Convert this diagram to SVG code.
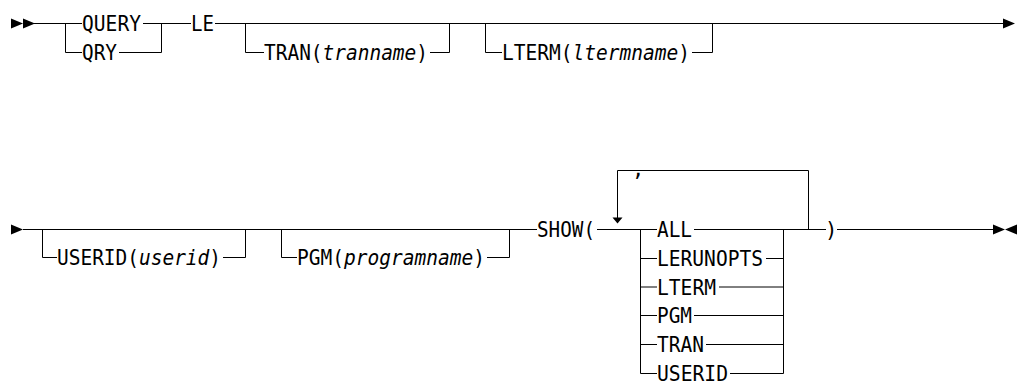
<svg xmlns="http://www.w3.org/2000/svg" width="1017" height="381" viewBox="0 0 1017 381">
<style>
.t{font-family:"DejaVu Sans Mono","Liberation Mono",monospace;font-size:20.5px;fill:#000}
.v{font-style:italic}
.c{fill:none;stroke:#000;stroke-width:1}
.a{fill:#000;stroke:none}
</style>
<rect width="1017" height="381" fill="#fff"/>
<g id="connectors">
<path class="c" d="M34 23.5H82 M143 23.5H191 M65.5 23.5V52.5H82 M119 52.5H161.5V23.5 M215 23.5H1003 M245.5 23.5V52.5H264 M430 52.5H449.5V23.5 M485.5 23.5V52.5H502 M692 52.5H712.5V23.5"/>
<path class="c" d="M23 229.5H537 M42.5 229.5V257.5H57 M223 257.5H245.5V229.5 M281.5 229.5V257.5H297 M487 257.5H509.5V229.5 M597 229.5H657"/>
<path class="c" d="M617.5 218V170.5H808.5V229.5 M640.5 229.5V373.5 M640.5 258.5H657 M640.5 287H657 M640.5 315.5H657 M640.5 344.5H657 M640.5 373.5H657 M694 229.5H826 M766 258.5H783.5 M719 287H783.5 M694 315.5H783.5 M706 344.5H783.5 M730 373.5H783.5 M783.5 229.5V373.5 M837 229.5H993"/>
<path class="a" d="M11 18.5L23 23.5L11 28.5Z M23 18.5L35 23.5L23 28.5Z M1003 18.5L1015 23.5L1003 28.5Z M11 224.5L23 229.5L11 234.5Z M612.5 217.5H622.5L617.5 223.5Z M993 224.5L1005 229.5L993 234.5Z M1017 224.5L1005 229.5L1017 234.5Z"/>
</g>
<g id="query"><text class="t" x="82" y="31" textLength="59" lengthAdjust="spacingAndGlyphs">QUERY</text></g>
<g id="qry"><text class="t" x="82" y="60" textLength="35" lengthAdjust="spacingAndGlyphs">QRY</text></g>
<g id="le"><text class="t" x="191" y="31" textLength="23" lengthAdjust="spacingAndGlyphs">LE</text></g>
<g id="tran"><text class="t" x="264" y="60" textLength="164" lengthAdjust="spacingAndGlyphs">TRAN(<tspan class="v">tranname</tspan>)</text></g>
<g id="lterm"><text class="t" x="502" y="60" textLength="188" lengthAdjust="spacingAndGlyphs">LTERM(<tspan class="v">ltermname</tspan>)</text></g>
<g id="userid"><text class="t" x="57" y="265" textLength="164" lengthAdjust="spacingAndGlyphs">USERID(<tspan class="v">userid</tspan>)</text></g>
<g id="pgm"><text class="t" x="297" y="265" textLength="188" lengthAdjust="spacingAndGlyphs">PGM(<tspan class="v">programname</tspan>)</text></g>
<g id="show"><text class="t" x="537" y="237" textLength="58" lengthAdjust="spacingAndGlyphs">SHOW(</text></g>
<g id="comma"><text class="t" x="632" y="176">,</text></g>
<g id="opt-all"><text class="t" x="657" y="237" textLength="35" lengthAdjust="spacingAndGlyphs">ALL</text></g>
<g id="opt-lerunopts"><text class="t" x="657" y="266" textLength="106" lengthAdjust="spacingAndGlyphs">LERUNOPTS</text></g>
<g id="opt-lterm"><text class="t" x="657" y="294.5" textLength="59" lengthAdjust="spacingAndGlyphs">LTERM</text></g>
<g id="opt-pgm"><text class="t" x="657" y="323" textLength="35" lengthAdjust="spacingAndGlyphs">PGM</text></g>
<g id="opt-tran"><text class="t" x="657" y="352" textLength="47" lengthAdjust="spacingAndGlyphs">TRAN</text></g>
<g id="opt-userid"><text class="t" x="657" y="381" textLength="71" lengthAdjust="spacingAndGlyphs">USERID</text></g>
<g id="close"><text class="t" x="825" y="237">)</text></g>
</svg>
